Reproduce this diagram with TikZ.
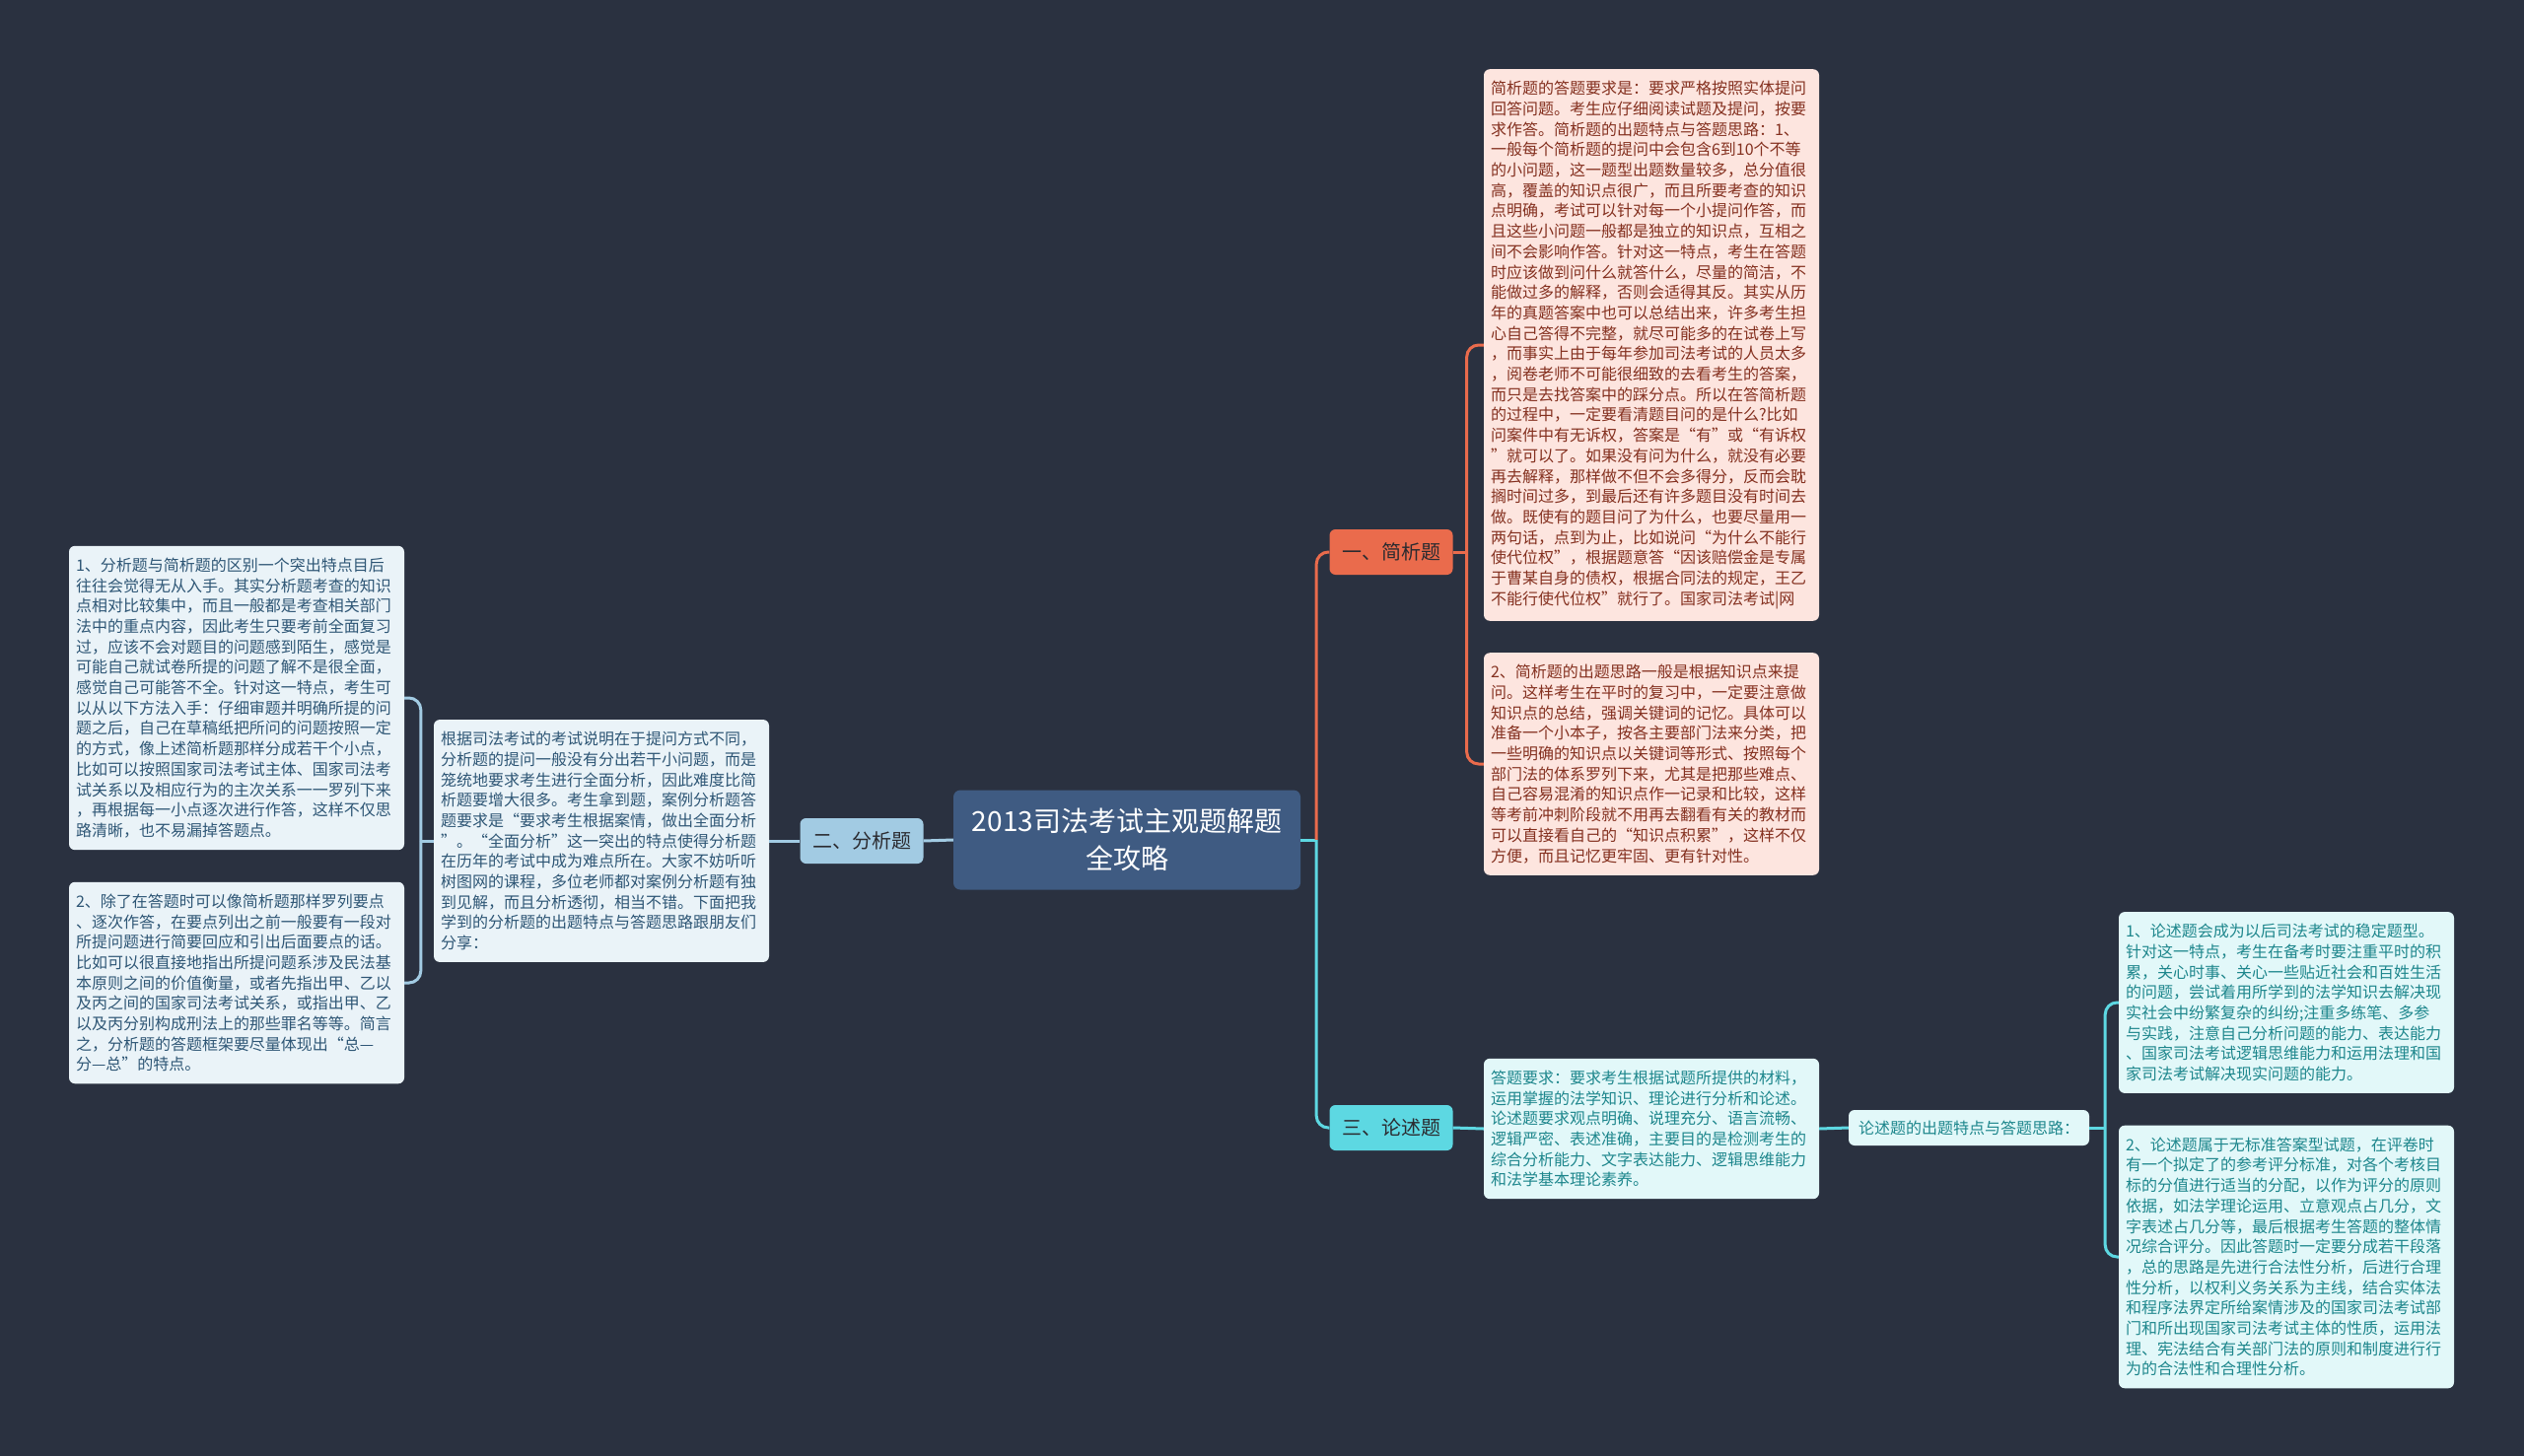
\documentclass[tikz,border=0pt]{standalone}
\usepackage{fontspec}
\setmainfont{Noto Sans CJK SC}
\definecolor{bg}{HTML}{2A3140}
\definecolor{centerfill}{HTML}{3F5B82}
\definecolor{bluefill}{HTML}{A2CBE3}
\definecolor{orangefill}{HTML}{EA6B4C}
\definecolor{cyanfill}{HTML}{5DD8E2}
\definecolor{pinkbox}{HTML}{FDE5DF}
\definecolor{lbluebox}{HTML}{EAF3F8}
\definecolor{lcyanbox}{HTML}{E2F8F9}
\definecolor{redtext}{HTML}{84301F}
\definecolor{bluetext}{HTML}{2E5675}
\definecolor{tealtext}{HTML}{1D868C}
\definecolor{darktext}{HTML}{2B2B30}
\tikzset{
  txt/.style={rounded corners=6pt, align=left, text width=326pt, inner xsep=7pt, inner ysep=12pt,
    font=\fontsize{16}{20.7}\selectfont},
  pinkstyle/.style={txt, fill=pinkbox, text=redtext},
  bluestyle/.style={txt, fill=lbluebox, text=bluetext},
  cyanstyle/.style={txt, fill=lcyanbox, text=tealtext},
  branch/.style={rounded corners=6pt, minimum width=125pt, minimum height=46pt, inner sep=0pt,
    font=\fontsize{20}{24}\selectfont, text=darktext},
  bline/.style={draw=bluefill, line width=3pt},
  oline/.style={draw=orangefill, line width=3pt},
  cline/.style={draw=cyanfill, line width=3pt},
}
\begin{document}
\begin{tikzpicture}[x=1pt,y=-1pt]
\fill[bg] (0,0) rectangle (2560,1477);
\useasboundingbox (0,0) rectangle (2560,1477);

% center
\node[fill=centerfill, rounded corners=7pt, minimum width=352pt, minimum height=101pt, align=center,
  text=white, font=\fontsize{28}{37.5}\selectfont, inner sep=0pt] (c) at (1143,852)
  {2013司法考试主观题解题\\全攻略};

% branches
\node[branch, fill=bluefill] (er) at (874,853) {二、分析题};
\node[branch, fill=orangefill] (yi) at (1411,560) {一、简析题};
\node[branch, fill=cyanfill] (san) at (1411,1144) {三、论述题};

% 简析题 boxes
\node[pinkstyle] (A) at (1675,350) {简析题的答题要求是：要求严格按照实体提问\\
回答问题。考生应仔细阅读试题及提问，按要\\
求作答。简析题的出题特点与答题思路：1、\\
一般每个简析题的提问中会包含6到10个不等\\
的小问题，这一题型出题数量较多，总分值很\\
高，覆盖的知识点很广，而且所要考查的知识\\
点明确，考试可以针对每一个小提问作答，而\\
且这些小问题一般都是独立的知识点，互相之\\
间不会影响作答。针对这一特点，考生在答题\\
时应该做到问什么就答什么，尽量的简洁，不\\
能做过多的解释，否则会适得其反。其实从历\\
年的真题答案中也可以总结出来，许多考生担\\
心自己答得不完整，就尽可能多的在试卷上写\\
，而事实上由于每年参加司法考试的人员太多\\
，阅卷老师不可能很细致的去看考生的答案，\\
而只是去找答案中的踩分点。所以在答简析题\\
的过程中，一定要看清题目问的是什么?比如\\
问案件中有无诉权，答案是“有”或“有诉权\\
”就可以了。如果没有问为什么，就没有必要\\
再去解释，那样做不但不会多得分，反而会耽\\
搁时间过多，到最后还有许多题目没有时间去\\
做。既使有的题目问了为什么，也要尽量用一\\
两句话，点到为止，比如说问“为什么不能行\\
使代位权”，根据题意答“因该赔偿金是专属\\
于曹某自身的债权，根据合同法的规定，王乙\\
不能行使代位权”就行了。国家司法考试|网};

\node[pinkstyle] (B) at (1675,775) {2、简析题的出题思路一般是根据知识点来提\\
问。这样考生在平时的复习中，一定要注意做\\
知识点的总结，强调关键词的记忆。具体可以\\
准备一个小本子，按各主要部门法来分类，把\\
一些明确的知识点以关键词等形式、按照每个\\
部门法的体系罗列下来，尤其是把那些难点、\\
自己容易混淆的知识点作一记录和比较，这样\\
等考前冲刺阶段就不用再去翻看有关的教材而\\
可以直接看自己的“知识点积累”，这样不仅\\
方便，而且记忆更牢固、更有针对性。};

% 分析题 boxes
\node[bluestyle] (G) at (610,853) {根据司法考试的考试说明在于提问方式不同，\\
分析题的提问一般没有分出若干小问题，而是\\
笼统地要求考生进行全面分析，因此难度比简\\
析题要增大很多。考生拿到题，案例分析题答\\
题要求是“要求考生根据案情，做出全面分析\\
”。“全面分析”这一突出的特点使得分析题\\
在历年的考试中成为难点所在。大家不妨听听\\
树图网的课程，多位老师都对案例分析题有独\\
到见解，而且分析透彻，相当不错。下面把我\\
学到的分析题的出题特点与答题思路跟朋友们\\
分享：};

\node[bluestyle] (H) at (240,708) {1、分析题与简析题的区别一个突出特点目后\\
往往会觉得无从入手。其实分析题考查的知识\\
点相对比较集中，而且一般都是考查相关部门\\
法中的重点内容，因此考生只要考前全面复习\\
过，应该不会对题目的问题感到陌生，感觉是\\
可能自己就试卷所提的问题了解不是很全面，\\
感觉自己可能答不全。针对这一特点，考生可\\
以从以下方法入手：仔细审题并明确所提的问\\
题之后，自己在草稿纸把所问的问题按照一定\\
的方式，像上述简析题那样分成若干个小点，\\
比如可以按照国家司法考试主体、国家司法考\\
试关系以及相应行为的主次关系一一罗列下来\\
，再根据每一小点逐次进行作答，这样不仅思\\
路清晰，也不易漏掉答题点。};

\node[bluestyle] (I) at (240,997) {2、除了在答题时可以像简析题那样罗列要点\\
、逐次作答，在要点列出之前一般要有一段对\\
所提问题进行简要回应和引出后面要点的话。\\
比如可以很直接地指出所提问题系涉及民法基\\
本原则之间的价值衡量，或者先指出甲、乙以\\
及丙之间的国家司法考试关系，或指出甲、乙\\
以及丙分别构成刑法上的那些罪名等等。简言\\
之，分析题的答题框架要尽量体现出“总—\\
分—总”的特点。};

% 论述题 boxes
\node[cyanstyle] (C) at (1675,1145) {答题要求：要求考生根据试题所提供的材料，\\
运用掌握的法学知识、理论进行分析和论述。\\
论述题要求观点明确、说理充分、语言流畅、\\
逻辑严密、表述准确，主要目的是检测考生的\\
综合分析能力、文字表达能力、逻辑思维能力\\
和法学基本理论素养。};

\node[rounded corners=6pt, fill=lcyanbox, text=tealtext, font=\fontsize{16}{20.7}\selectfont,
  inner xsep=10pt, minimum height=36pt, inner ysep=0pt] (D) at (1997,1144) {论述题的出题特点与答题思路：};

\node[cyanstyle] (E) at (2319,1017) {1、论述题会成为以后司法考试的稳定题型。\\
针对这一特点，考生在备考时要注重平时的积\\
累，关心时事、关心一些贴近社会和百姓生活\\
的问题，尝试着用所学到的法学知识去解决现\\
实社会中纷繁复杂的纠纷;注重多练笔、多参\\
与实践，注意自己分析问题的能力、表达能力\\
、国家司法考试逻辑思维能力和运用法理和国\\
家司法考试解决现实问题的能力。};

\node[cyanstyle] (F) at (2319,1275) {2、论述题属于无标准答案型试题，在评卷时\\
有一个拟定了的参考评分标准，对各个考核目\\
标的分值进行适当的分配，以作为评分的原则\\
依据，如法学理论运用、立意观点占几分，文\\
字表述占几分等，最后根据考生答题的整体情\\
况综合评分。因此答题时一定要分成若干段落\\
，总的思路是先进行合法性分析，后进行合理\\
性分析，以权利义务关系为主线，结合实体法\\
和程序法界定所给案情涉及的国家司法考试部\\
门和所出现国家司法考试主体的性质，运用法\\
理、宪法结合有关部门法的原则和制度进行行\\
为的合法性和合理性分析。};

% connectors: center to right branches
\coordinate (j1) at ([xshift=16pt]c.east);
\draw[cline] (c.east) -- (j1);
\draw[oline, rounded corners=12pt] (j1) |- (yi.west);
\draw[cline, rounded corners=12pt] (j1) |- (san.west);

% 简析题 to boxes
\coordinate (j2) at ([xshift=14pt]yi.east);
\draw[oline] (yi.east) -- (j2);
\draw[oline, rounded corners=12pt] (j2) |- (A.west);
\draw[oline, rounded corners=12pt] (j2) |- (B.west);

% 论述题 chain
\draw[cline] (san.east) -- (C.west);
\draw[cline] (C.east) -- (D.west);
\coordinate (j3) at ([xshift=16pt]D.east);
\draw[cline] (D.east) -- (j3);
\draw[cline, rounded corners=12pt] (j3) |- (E.west);
\draw[cline, rounded corners=12pt] (j3) |- (F.west);

% 分析题 chain
\draw[bline] (c.west) -- (er.east);
\draw[bline] (er.west) -- (G.east);
\coordinate (j4) at ([xshift=-13pt]G.west);
\draw[bline] (G.west) -- (j4);
\draw[bline, rounded corners=12pt] (j4) |- (H.east);
\draw[bline, rounded corners=12pt] (j4) |- (I.east);
\end{tikzpicture}
\end{document}
